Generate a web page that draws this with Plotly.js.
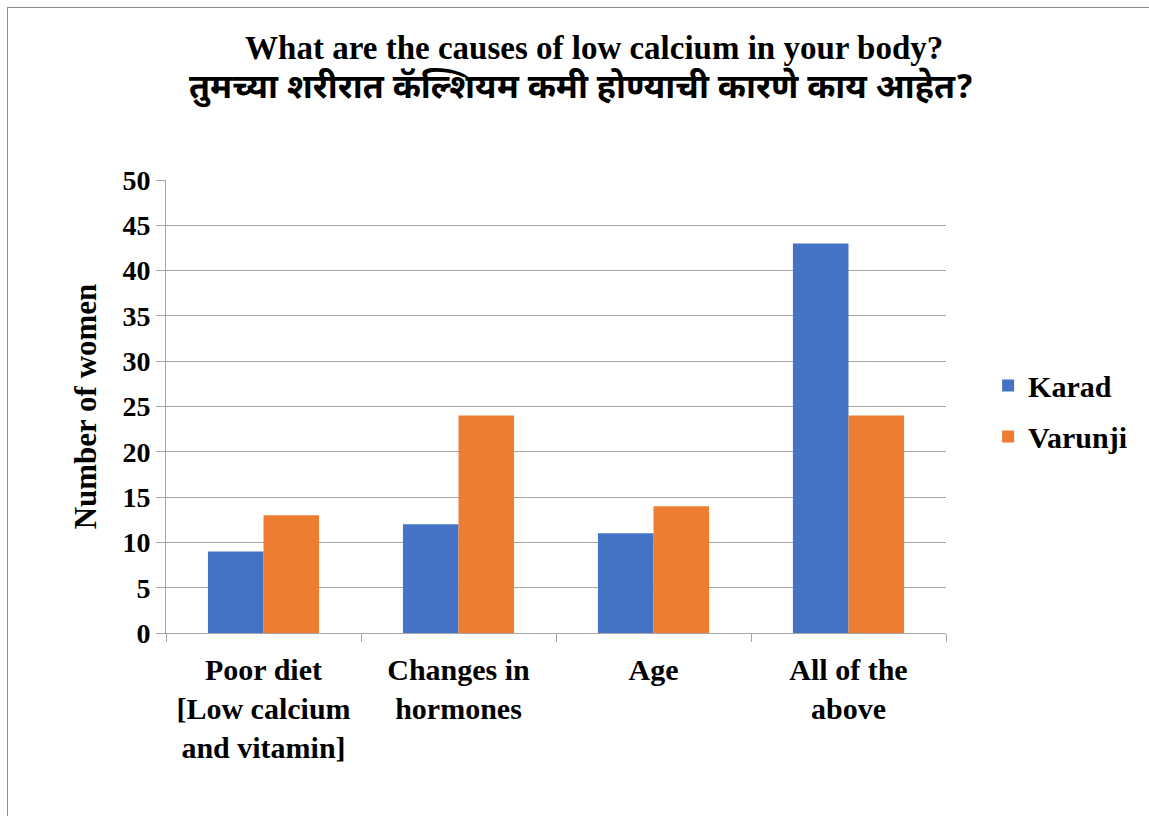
<!DOCTYPE html>
<html>
<head>
<meta charset="utf-8">
<script src="https://cdn.plot.ly/plotly-3.0.1.min.js"></script>
<style>
  html, body { margin: 0; padding: 0; background: #fff; overflow: hidden; }
  #frame { position: absolute; left: 7px; top: 7px; width: 1200px; height: 900px;
           border-top: 1px solid #8c8c8c; border-left: 1px solid #8c8c8c; }
  #chart { position: absolute; left: 0; top: 0; width: 1149px; height: 816px; }
</style>
</head>
<body>
<div id="frame"></div>
<div id="chart"></div>
<script>
// Survey answers: causes of low calcium, number of women per village
const categories = [
  "Poor diet<br>[Low calcium<br>and vitamin]",
  "Changes in<br>hormones",
  "Age",
  "All of the<br>above"
];
const karad = [9, 12, 11, 43];
const varunji = [13, 24, 14, 24];
const yTicks = [0, 5, 10, 15, 20, 25, 30, 35, 40, 45, 50];

const serif = "Liberation Serif, Times New Roman, serif";
const gridCol = "#a6a6a6";

// bold every line of a multi-line label
const boldLines = s => s.split("<br>").map(l => "<b>" + l + "</b>").join("<br>");

const traces = [
  { type: "bar", name: "<b>Karad</b>", x: categories, y: karad,
    marker: { color: "#4472C4" }, legendgroup: "k", hoverinfo: "y" },
  { type: "bar", name: "<b>Varunji</b>", x: categories, y: varunji,
    marker: { color: "#ED7D31" }, legendgroup: "v", hoverinfo: "y" }
];

const layout = {
  width: 1149, height: 816,
  paper_bgcolor: "rgba(0,0,0,0)", plot_bgcolor: "rgba(0,0,0,0)",
  margin: { l: 166, r: 203, t: 180, b: 183 },
  barmode: "group", bargap: 0.43, bargroupgap: 0,
  font: { family: serif, color: "#000", size: 28 },
  title: {
    text: "<b>What are the causes of low calcium in your body?</b>",
    x: 0.549, xref: "paper", xanchor: "center",
    y: 0.942, yref: "container", yanchor: "middle",
    font: { family: serif, size: 33, color: "#000" }
  },
  annotations: [{
    text: "<b>तुमच्या शरीरात कॅल्शियम कमी होण्याची कारणे काय आहेत?</b>",
    xref: "paper", yref: "paper", x: 0.533, y: 1.20, xanchor: "center", yanchor: "middle",
    showarrow: false, font: { family: "Noto Sans Devanagari, Noto Sans, sans-serif", size: 34, color: "#000" }
  }],
  xaxis: {
    type: "category",
    tickvals: categories, ticktext: categories.map(boldLines),
    showline: true, linecolor: gridCol, linewidth: 1,
    ticks: "outside", tickson: "boundaries", ticklen: 8, tickcolor: gridCol,
    showgrid: false, zeroline: false, ticklabelstandoff: 10,
    tickfont: { family: serif, size: 30, color: "#000" }
  },
  yaxis: {
    range: [0, 50], tickvals: yTicks, ticktext: yTicks.map(v => "<b>" + v + "</b>"),
    showline: true, linecolor: gridCol, linewidth: 1,
    ticks: "outside", ticklen: 9, tickcolor: gridCol,
    showgrid: true, gridcolor: gridCol, gridwidth: 1, zeroline: false,
    tickfont: { family: serif, size: 28, color: "#000" },
    title: { text: "<b>Number of women</b>", standoff: 16,
             font: { family: serif, size: 31, color: "#000" } }
  },
  showlegend: true,
  legend: {
    x: 1.054, xanchor: "left", y: 0.49, yanchor: "middle",
    font: { family: serif, size: 30, color: "#000" },
    tracegroupgap: 9, itemwidth: 30, bgcolor: "rgba(0,0,0,0)"
  }
};

Plotly.newPlot("chart", traces, layout, { displayModeBar: false, staticPlot: true });
</script>
</body>
</html>
